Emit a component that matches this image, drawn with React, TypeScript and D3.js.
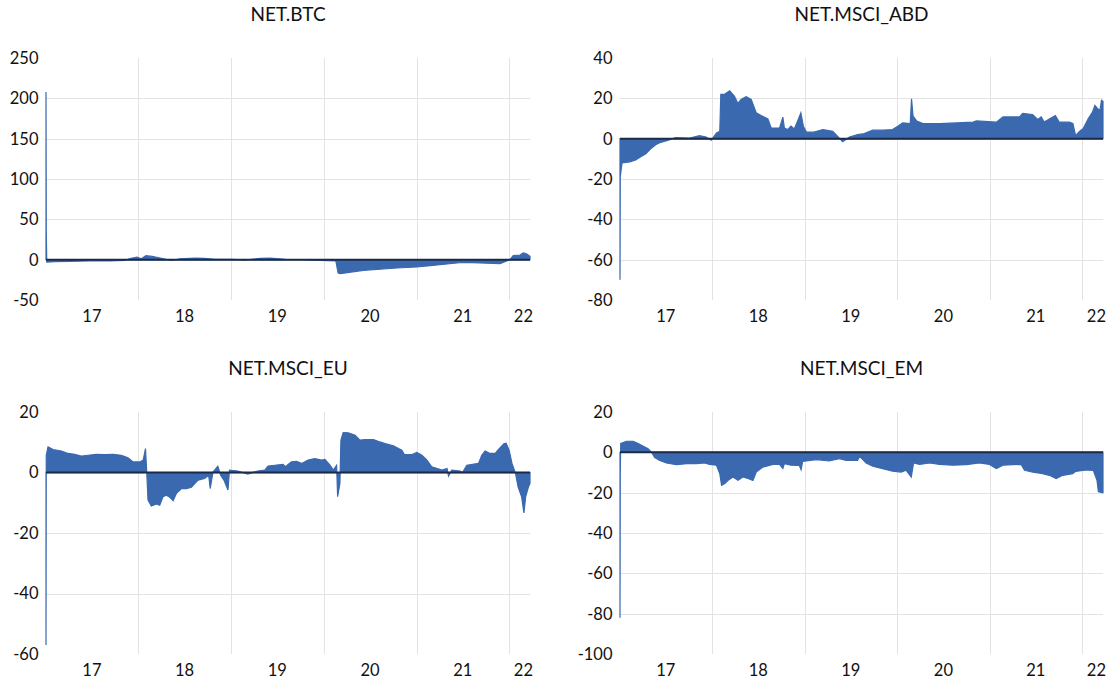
import React, { useRef, useEffect } from 'react';
import * as d3 from 'd3';

type Point = [string, number];

// axis range shared by all four panels
const startDate = '2017-01-02';
const endDate = '2022-03-24';
const years = [2017, 2018, 2019, 2020, 2021, 2022];

const btcTicks = [-50, 0, 50, 100, 150, 200, 250];
const abdTicks = [-80, -60, -40, -20, 0, 20, 40];
const euTicks = [-60, -40, -20, 0, 20];
const emTicks = [-100, -80, -60, -40, -20, 0, 20];

const btcData: Point[] = [
  ['2017-01-02', 208], ['2017-01-03', 36], ['2017-01-05', -3], ['2017-02-08', -2.5],
  ['2017-04-07', -2], ['2017-06-25', -1.5], ['2017-09-11', -1.5], ['2017-11-09', -1],
  ['2017-11-29', 1.5], ['2017-12-27', 3.3], ['2018-01-12', 1], ['2018-01-31', 5],
  ['2018-02-24', 4], ['2018-03-19', 2.5], ['2018-04-11', 1], ['2018-05-10', -1],
  ['2018-06-14', 1], ['2018-08-12', 2], ['2018-09-20', 1.5], ['2018-10-30', 0.5],
  ['2019-01-05', 0.5], ['2019-02-25', -0.5], ['2019-04-25', 1.5], ['2019-06-04', 2],
  ['2019-08-02', 0.5], ['2019-09-30', 0], ['2019-12-18', -1], ['2020-02-18', -1.5],
  ['2020-02-27', -16.5], ['2020-03-06', -17.4], ['2020-06-06', -13.2], ['2020-10-16', -10.3],
  ['2021-01-02', -9.1], ['2021-02-24', -7.4], ['2021-06-09', -4.1], ['2021-07-04', -3.3],
  ['2021-09-08', -4.1], ['2021-11-26', -5], ['2022-01-04', 0], ['2022-01-17', 5],
  ['2022-02-13', 5.8], ['2022-02-25', 8.3], ['2022-03-10', 7.4], ['2022-03-24', 4.1],
];

const abdData: Point[] = [
  ['2017-01-02', -70], ['2017-01-03', -19], ['2017-01-10', -12], ['2017-02-10', -11.5],
  ['2017-03-05', -10.5], ['2017-03-25', -9], ['2017-04-14', -7.5], ['2017-05-03', -5],
  ['2017-05-23', -3], ['2017-06-12', -1.8], ['2017-07-06', -1], ['2017-08-10', 0.5],
  ['2017-10-04', 0.3], ['2017-11-12', 1.5], ['2017-12-08', 0.8], ['2017-12-28', -0.8],
  ['2018-01-18', 2.8], ['2018-01-31', 3.7], ['2018-02-04', 22], ['2018-02-19', 22],
  ['2018-03-11', 23.7], ['2018-03-30', 21], ['2018-04-12', 17.5], ['2018-04-26', 19.5],
  ['2018-05-15', 20.8], ['2018-06-04', 19.5], ['2018-06-24', 12.8], ['2018-07-13', 11.5],
  ['2018-08-09', 9.8], ['2018-08-22', 5.3], ['2018-09-24', 5.3], ['2018-10-07', 10.7],
  ['2018-10-13', 5.3], ['2018-10-26', 4.5], ['2018-11-08', 6.2], ['2018-11-21', 4.8],
  ['2018-12-04', 8.7], ['2018-12-17', 12.8], ['2018-12-27', 6.2], ['2019-01-08', 3.3],
  ['2019-02-03', 3.2], ['2019-03-14', 4.5], ['2019-04-22', 3.7], ['2019-05-18', 0.3],
  ['2019-05-31', -1.5], ['2019-06-27', 0.8], ['2019-07-29', 2], ['2019-08-24', 2.5],
  ['2019-09-27', 4.2], ['2019-11-05', 4.2], ['2019-12-14', 4.5], ['2020-01-04', 6.2],
  ['2020-01-23', 7.8], ['2020-02-22', 7.5], ['2020-02-27', 19.8], ['2020-03-04', 11.2],
  ['2020-03-19', 8.7], ['2020-04-12', 7.5], ['2020-06-17', 7.5], ['2020-08-22', 7.8],
  ['2020-10-27', 8.2], ['2020-11-09', 8.8], ['2021-01-27', 8.2], ['2021-02-22', 10.8],
  ['2021-04-28', 10.8], ['2021-05-11', 12.5], ['2021-06-19', 12], ['2021-07-09', 9.5],
  ['2021-07-23', 10.8], ['2021-08-04', 8.2], ['2021-08-24', 9.8], ['2021-09-17', 11.5],
  ['2021-10-02', 8.2], ['2021-11-11', 8.2], ['2021-11-25', 7.5], ['2021-12-06', 1.5],
  ['2021-12-20', 3.5], ['2022-01-05', 5], ['2022-01-25', 10], ['2022-02-10', 13],
  ['2022-02-20', 16.5], ['2022-03-02', 15], ['2022-03-12', 14], ['2022-03-18', 19],
  ['2022-03-24', 18.5],
];

const euData: Point[] = [
  ['2017-01-02', -57], ['2017-01-03', 5.7], ['2017-01-10', 8.5], ['2017-01-30', 7.6],
  ['2017-03-04', 7.1], ['2017-03-30', 6.3], ['2017-04-25', 6], ['2017-05-21', 5.4],
  ['2017-06-17', 5.7], ['2017-07-19', 6], ['2017-08-21', 5.9], ['2017-09-23', 6],
  ['2017-10-26', 5.7], ['2017-11-21', 4.9], ['2017-12-11', 3.5], ['2018-01-07', 3.5],
  ['2018-01-20', 4.1], ['2018-01-29', 7.9], ['2018-02-03', 0], ['2018-02-08', -9.1],
  ['2018-02-21', -11.1], ['2018-03-13', -10.4], ['2018-03-26', -10.8], ['2018-04-08', -8],
  ['2018-04-21', -7.5], ['2018-05-05', -8.2], ['2018-05-18', -9.3], ['2018-05-31', -6.9],
  ['2018-06-20', -5.3], ['2018-07-09', -5.3], ['2018-07-29', -4.9], ['2018-08-24', -2.5],
  ['2018-09-19', -2], ['2018-10-05', -0.9], ['2018-10-11', -5.3], ['2018-10-22', 0.2],
  ['2018-11-10', 2.1], ['2018-11-21', -0.9], ['2018-12-04', -2.5], ['2018-12-20', -5.8],
  ['2018-12-26', 0.8], ['2019-01-28', 0.5], ['2019-03-08', -0.5], ['2019-04-16', 0.5],
  ['2019-05-14', 0.8], ['2019-05-27', 2.1], ['2019-06-22', 2.4], ['2019-07-25', 2.7],
  ['2019-08-03', 1.9], ['2019-08-27', 3.5], ['2019-09-16', 3.7], ['2019-10-06', 3],
  ['2019-11-01', 4.1], ['2019-11-27', 4.6], ['2019-12-24', 4.1], ['2020-01-06', 4.3],
  ['2020-01-26', 2.4], ['2020-02-08', 0.8], ['2020-02-21', 2.4], ['2020-02-25', -8],
  ['2020-03-05', -3.6], ['2020-03-09', 10.7], ['2020-03-18', 13.2], ['2020-04-07', 13.1],
  ['2020-05-04', 12.3], ['2020-05-23', 10.7], ['2020-06-12', 10.9], ['2020-07-15', 10.9],
  ['2020-08-10', 10.1], ['2020-08-30', 9.6], ['2020-10-02', 8.8], ['2020-10-22', 7.9],
  ['2020-11-04', 7.4], ['2020-11-14', 5.9], ['2020-12-14', 5.9], ['2021-01-02', 6.6],
  ['2021-01-22', 5.7], ['2021-02-11', 4.1], ['2021-03-02', 1.9], ['2021-04-11', 0.8],
  ['2021-05-01', 1.3], ['2021-05-07', -1.2], ['2021-05-20', 0.8], ['2021-06-22', 0.5],
  ['2021-07-01', 0], ['2021-07-18', 2.4], ['2021-09-02', 3], ['2021-09-15', 5.7],
  ['2021-09-28', 7.1], ['2021-10-18', 6.3], ['2021-11-07', 6.3], ['2021-11-20', 7.6],
  ['2021-12-11', 9.5], ['2021-12-20', 9.7], ['2022-01-01', 7.3], ['2022-01-12', 3],
  ['2022-01-26', -0.3], ['2022-02-05', -4.7], ['2022-02-19', -8], ['2022-02-28', -13.4],
  ['2022-03-07', -8], ['2022-03-18', -4.7], ['2022-03-24', -3.6],
];

const emData: Point[] = [
  ['2017-01-02', -82], ['2017-01-03', -10], ['2017-01-05', 4.5], ['2017-01-09', 4.6],
  ['2017-01-28', 5.5], ['2017-02-23', 5.5], ['2017-03-15', 4.3], ['2017-04-04', 3],
  ['2017-04-23', 1.8], ['2017-05-07', 0], ['2017-05-19', -2.6], ['2017-06-08', -4],
  ['2017-07-04', -5.3], ['2017-08-13', -6.1], ['2017-09-22', -5.6], ['2017-10-31', -5.6],
  ['2017-12-02', -5.3], ['2017-12-22', -6], ['2018-01-18', -6.4], ['2018-01-31', -10.6],
  ['2018-02-07', -16.4], ['2018-02-20', -15.5], ['2018-03-05', -13.9], ['2018-03-24', -12.2],
  ['2018-04-13', -13.9], ['2018-05-02', -12.2], ['2018-05-22', -13], ['2018-06-11', -13.9],
  ['2018-06-24', -9.8], ['2018-07-20', -7.3], ['2018-08-29', -6], ['2018-09-24', -6],
  ['2018-10-07', -8], ['2018-10-13', -5.6], ['2018-11-08', -6.4], ['2018-12-11', -6.5],
  ['2018-12-18', -8.6], ['2018-12-24', -4.5], ['2019-01-08', -4.3], ['2019-02-16', -3.6],
  ['2019-04-08', -4.3], ['2019-05-18', -3.1], ['2019-06-14', -4], ['2019-07-29', -4],
  ['2019-08-06', -2], ['2019-09-01', -5.3], ['2019-09-27', -6.9], ['2019-11-05', -8.1],
  ['2019-12-14', -9.3], ['2020-01-17', -9.8], ['2020-02-06', -8.9], ['2020-02-26', -12.2],
  ['2020-03-06', -5.3], ['2020-03-30', -6], ['2020-05-08', -5.3], ['2020-06-17', -6],
  ['2020-08-08', -6.4], ['2020-09-30', -6.1], ['2020-11-21', -5.3], ['2020-12-31', -6],
  ['2021-01-27', -8.1], ['2021-02-22', -6.4], ['2021-04-02', -6.1], ['2021-05-05', -6],
  ['2021-05-18', -8.9], ['2021-06-20', -9.8], ['2021-07-29', -10.6], ['2021-08-24', -11.4],
  ['2021-09-20', -13], ['2021-10-16', -11.4], ['2021-11-24', -10.6], ['2021-12-05', -9.5],
  ['2022-01-18', -8.7], ['2022-02-14', -9], ['2022-02-28', -13.7], ['2022-03-06', -19.5],
  ['2022-03-24', -20],
];

const BLUE = '#3a69b0';
const FONT = 'Lato, "Liberation Sans", sans-serif';
const parseDate = d3.timeParse('%Y-%m-%d');

interface PanelProps {
  title: string;
  data: Point[];
  ticks: number[];
  left: number;
  top: number;
  width: number;
  height: number;
}

const AreaPanel: React.FC<PanelProps> = ({ title, data, ticks, left, top, width, height }) => {
  const ref = useRef<SVGGElement>(null);

  useEffect(() => {
    if (!ref.current) return;
    const g = d3.select(ref.current);
    g.selectAll('*').remove();

    const x = d3.scaleTime()
      .domain([parseDate(startDate)!, parseDate(endDate)!])
      .range([0, width]);
    const y = d3.scaleLinear()
      .domain(d3.extent(ticks) as [number, number])
      .range([height, 0]);

    const root = g.append('g').attr('transform', `translate(${left},${top})`);

    // horizontal gridlines (not at the outer ticks)
    root.selectAll('.hgrid')
      .data(ticks.slice(1, -1))
      .enter()
      .append('line')
      .attr('x1', 0)
      .attr('x2', width)
      .attr('y1', d => Math.round(y(d)) + 0.5)
      .attr('y2', d => Math.round(y(d)) + 0.5)
      .attr('stroke', '#e3e3e3');

    // vertical gridlines at year starts
    root.selectAll('.vgrid')
      .data(years.slice(1))
      .enter()
      .append('line')
      .attr('x1', d => Math.round(x(new Date(d, 0, 1))) + 0.5)
      .attr('x2', d => Math.round(x(new Date(d, 0, 1))) + 0.5)
      .attr('y1', 0)
      .attr('y2', height)
      .attr('stroke', '#e3e3e3');

    // area
    const area = d3.area<Point>()
      .x(d => x(parseDate(d[0])!))
      .y0(y(0))
      .y1(d => y(d[1]));
    root.append('path')
      .datum(data)
      .attr('d', area)
      .attr('fill', BLUE)
      .attr('stroke', BLUE)
      .attr('stroke-width', 1.2)
      .attr('stroke-linejoin', 'miter');

    // zero axis line
    root.append('line')
      .attr('x1', 0)
      .attr('x2', width)
      .attr('y1', y(0))
      .attr('y2', y(0))
      .attr('stroke', '#1b2b47')
      .attr('stroke-width', 2);

    // y labels
    root.selectAll('.ylab')
      .data(ticks)
      .enter()
      .append('text')
      .attr('x', -7.5)
      .attr('y', d => y(d))
      .attr('dy', '0.36em')
      .attr('text-anchor', 'end')
      .style('font-family', FONT)
      .style('font-size', '16.5px')
      .style('fill', '#111')
      .text(d => String(d));

    // x labels at mid-year; the last (partial) year is pulled inside
    root.selectAll('.xlab')
      .data(years)
      .enter()
      .append('text')
      .attr('x', d => (d === 2022 ? width + 3 : x(new Date(d, 6, 2))))
      .attr('y', height + 16)
      .attr('dy', '0.36em')
      .attr('text-anchor', d => (d === 2022 ? 'end' : 'middle'))
      .style('font-family', FONT)
      .style('font-size', '16.5px')
      .style('fill', '#111')
      .text(d => String(d).slice(2));

    // title
    root.append('text')
      .attr('x', width / 2)
      .attr('y', -43.5)
      .attr('dy', '0.36em')
      .attr('text-anchor', 'middle')
      .style('font-family', FONT)
      .style('font-size', '19px')
      .style('fill', '#111')
      .text(title);
  }, [title, data, ticks, left, top, width, height]);

  return <g ref={ref} />;
};

const App: React.FC = () => {
  return (
    <svg
      width={1111}
      height={684}
      style={{ position: 'absolute', left: 0, top: 0, background: '#fff' }}
    >
      <rect width={1111} height={684} fill="#fff" />
      <AreaPanel title="NET.BTC" data={btcData} ticks={btcTicks} left={46} top={58} width={484} height={242} />
      <AreaPanel title="NET.MSCI_ABD" data={abdData} ticks={abdTicks} left={620} top={58} width={483} height={242} />
      <AreaPanel title="NET.MSCI_EU" data={euData} ticks={euTicks} left={46} top={412} width={484} height={242} />
      <AreaPanel title="NET.MSCI_EM" data={emData} ticks={emTicks} left={620} top={412} width={483} height={242} />
    </svg>
  );
};

export default App;
